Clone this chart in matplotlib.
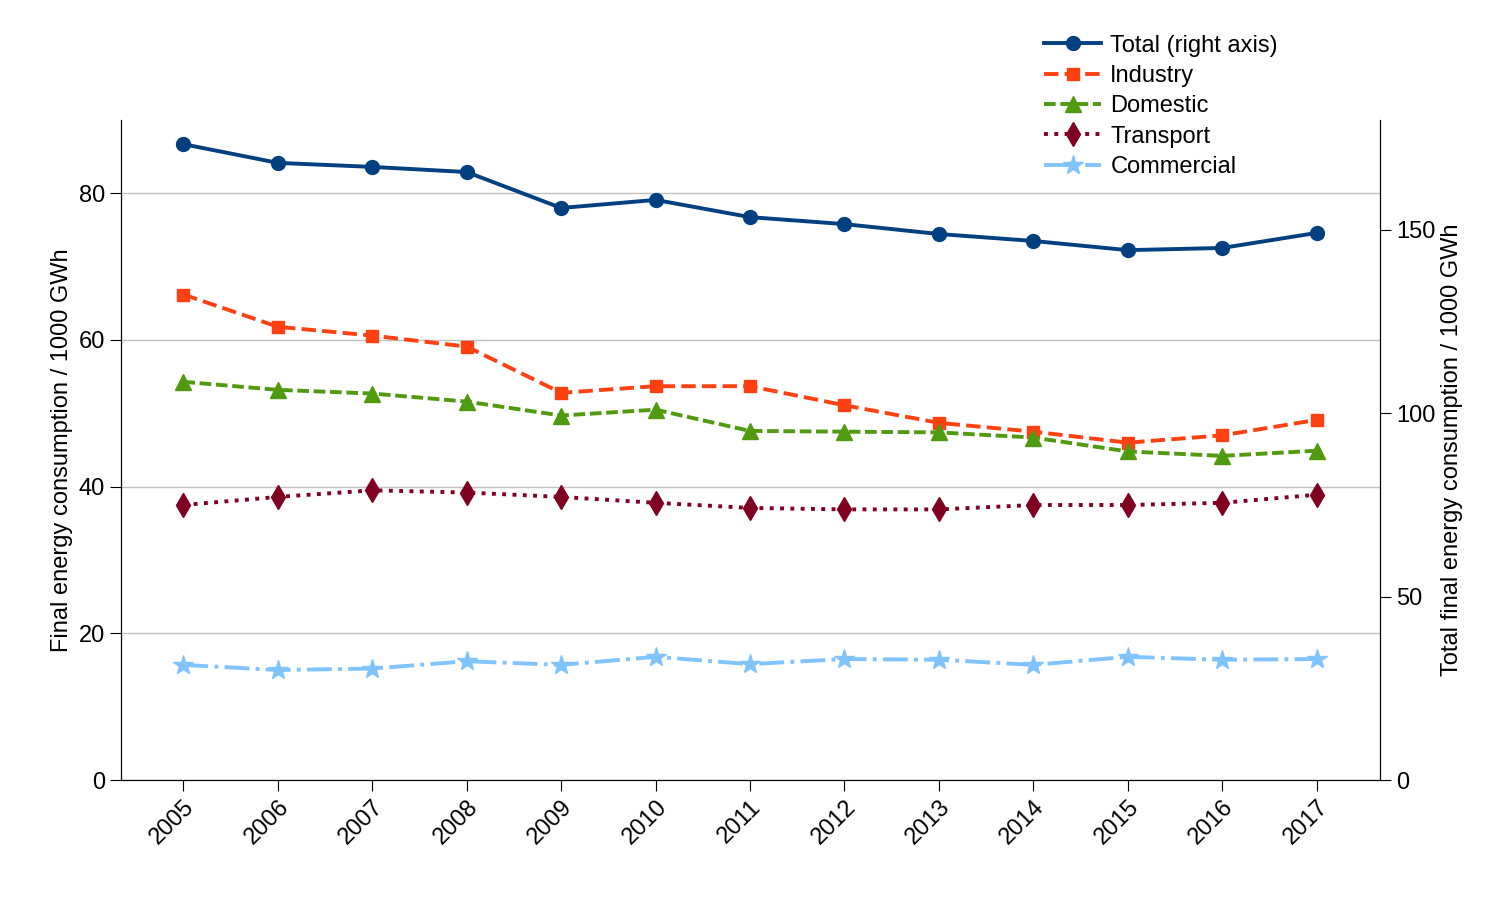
import matplotlib
matplotlib.use("Agg")
import matplotlib.pyplot as plt

plt.rcParams['font.family'] = ['Liberation Sans', 'DejaVu Sans']
fs = 17

years = list(range(2005, 2018))
total = [173.4, 168.3, 167.2, 165.8, 156.0, 158.2, 153.5, 151.6, 148.9, 147.0, 144.5, 145.1, 149.2]
industry = [66.2, 61.8, 60.6, 59.1, 52.8, 53.7, 53.7, 51.1, 48.7, 47.5, 46.0, 47.0, 49.1]
domestic = [54.3, 53.2, 52.7, 51.6, 49.7, 50.5, 47.6, 47.5, 47.4, 46.7, 44.8, 44.2, 44.9]
transport = [37.5, 38.6, 39.5, 39.2, 38.6, 37.8, 37.1, 36.9, 36.9, 37.5, 37.5, 37.8, 38.9]
commercial = [15.7, 15.0, 15.2, 16.2, 15.7, 16.8, 15.8, 16.5, 16.4, 15.7, 16.8, 16.4, 16.5]

fig = plt.figure(figsize=(15, 9), dpi=100)
ax = fig.add_axes([0.0807, 0.1333, 0.8393, 0.7334])
ax2 = ax.twinx()

lw = 2.8
l1, = ax2.plot(years, total, '-', color='#004080', marker='o', ms=10, lw=lw, label='Total (right axis)')
l2, = ax.plot(years, industry, '--', color='#ff4010', marker='s', ms=9, lw=lw, label='Industry')
l3, = ax.plot(years, domestic, '--', color='#509a10', marker='^', ms=12, lw=lw, dashes=(3, 1.2), label='Domestic')
l4, = ax.plot(years, transport, ':', color='#800020', marker='d', ms=12, lw=lw, label='Transport')
l5, = ax.plot(years, commercial, '-.', color='#80c4ff', marker='*', ms=15, lw=lw, label='Commercial')

ax.set_xlim(2004.34, 2017.67)
ax.set_ylim(0, 90)
ax2.set_ylim(0, 180)
ax.set_yticks([0, 20, 40, 60, 80])
ax2.set_yticks([0, 50, 100, 150])
ax.set_xticks(years)
ax.set_xticklabels([str(y) for y in years], rotation=45, ha='right', rotation_mode='anchor')
ax.yaxis.grid(True, color='#c0c0c0', lw=1)
ax.set_axisbelow(True)
for a in (ax, ax2):
    a.spines['top'].set_visible(False)
    a.tick_params(direction='out', length=8, labelsize=fs)
ax.set_ylabel('Final energy consumption / 1000 GWh', fontsize=fs)
ax2.set_ylabel('Total final energy consumption / 1000 GWh', fontsize=fs)

fig.legend(handles=[l1, l2, l3, l4, l5], loc='upper left', bbox_to_anchor=(0.682, 0.985),
           frameon=False, handlelength=2.4, labelspacing=0.35, handletextpad=0.4, fontsize=fs)

fig.savefig('out.png')
